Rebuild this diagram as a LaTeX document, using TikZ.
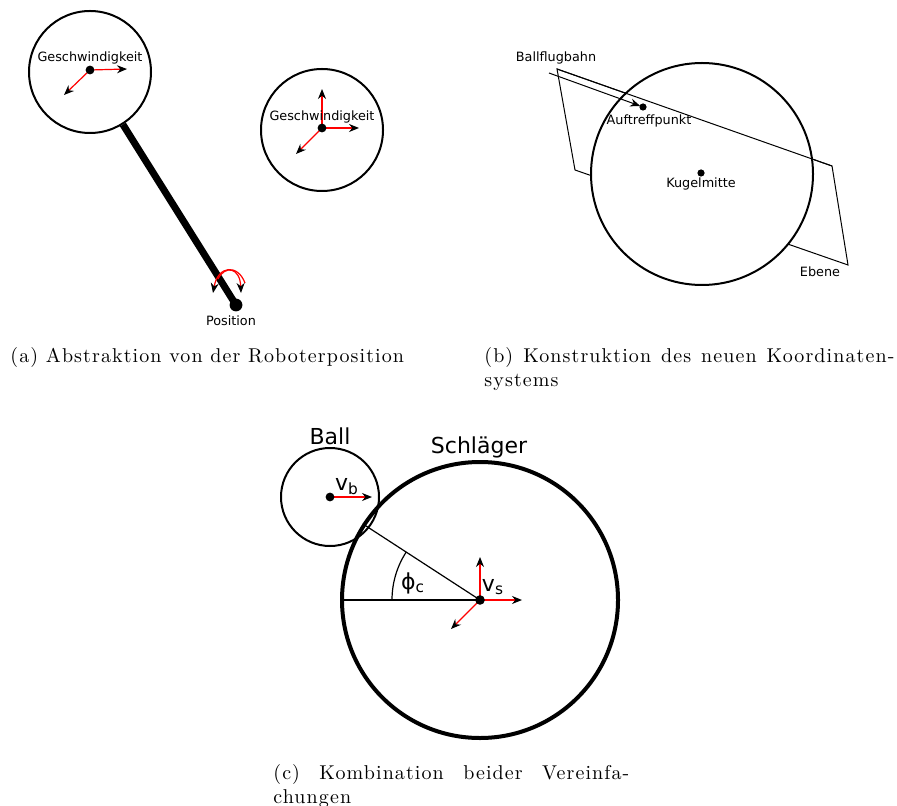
\documentclass[tikz,border=0pt]{standalone}
\usepackage{fontspec}
\usepackage{tikz}
\setmainfont{Latin Modern Roman}
\newfontfamily\labelfont{DejaVu Sans}
\usetikzlibrary{arrows.meta}

\begin{document}
\begin{tikzpicture}[
    x=0.5pt, y=-0.5pt, % pixel grid of the figure
    circ/.style={draw, circle, line width=1pt, inner sep=0pt},
    vel/.style={draw=red, line width=0.6pt, -{Stealth[black, length=5pt, width=4pt]}},
    plane/.style={draw=black, line width=0.5pt},
    lbl/.style={font=\labelfont\fontsize{6.4}{7.5}\selectfont, inner sep=0pt},
    biglbl/.style={font=\labelfont\fontsize{11}{13}\selectfont, inner sep=0pt},
    captxt/.style={font=\addfontfeature{LetterSpace=5.5}, inner sep=0pt, align=justify}
]
  \useasboundingbox (0,0) rectangle (897,806);

  % --- (a) ROBOT ABSTRACTION ---
  \node[circ, minimum size=61pt] (robot) at (90,72) {};
  \coordinate (rc) at (90,70);
  \coordinate (rv1) at (127,69);
  \coordinate (rv2) at (64,95);
  \draw[vel] (rc) -- (rv1);
  \draw[vel] (rc) -- (rv2);
  \fill (rc) circle (2.2pt);
  \node[lbl] (rtxt) at (90,58) {Geschwindigkeit};

  \coordinate (pos) at (236,305);
  \draw[line width=3.5pt] (robot) -- (pos);
  % rotation at the joint
  \coordinate (pa1) at (245,283);
  \coordinate (pa2) at (213,293);
  \coordinate (pb1) at (218,279);
  \coordinate (pb2) at (241,293);
  \draw[vel] (pa1) .. controls (238,264) and (218,265) .. (pa2);
  \draw[vel] (pb1) .. controls (225,265) and (240,267) .. (pb2);
  \fill (pos) circle (3.2pt);
  \node[lbl] (ptxt) at (231,321) {Position};

  \node[circ, minimum size=61pt] (free) at (322,130) {};
  \coordinate (fc) at (322,128);
  \coordinate (fv1) at (322,89);
  \coordinate (fv2) at (359,128);
  \coordinate (fv3) at (296,154);
  \draw[vel] (fc) -- (fv1);
  \draw[vel] (fc) -- (fv2);
  \draw[vel] (fc) -- (fv3);
  \fill (fc) circle (2.2pt);
  \node[lbl] (ftxt) at (322,117) {Geschwindigkeit};

  % --- (b) NEW COORDINATE SYSTEM ---
  \coordinate (e1) at (557,69);
  \coordinate (e2) at (832,166);
  \coordinate (e3) at (848,265);
  \coordinate (e4) at (575,170);
  \draw[plane] (e1) -- (e2) -- (e3) -- (e4) -- cycle;
  \node[circ, fill=white, minimum size=111pt] (kugel) at (702,174) {};
  \draw[plane] (e1) -- (e2);
  \coordinate (km) at (701,173);
  \fill (km) circle (1.8pt);
  \node[lbl] (kmtxt) at (701,184) {Kugelmitte};

  \coordinate (bahn) at (549,73);
  \coordinate (hit) at (643,107);
  \draw[plane, shorten >=1.5pt, -{Stealth[length=5pt, width=4pt]}] (bahn) -- (hit);
  \fill (hit) circle (1.8pt);
  \node[lbl] (bahntxt) at (556,58) {Ballflugbahn};
  \node[lbl] (hittxt) at (649,121) {Auftreffpunkt};
  \node[lbl] (ebtxt) at (820,272) {Ebene};

  % --- (c) COMBINATION ---
  \node[circ, minimum size=49pt] (ball) at (330,497) {};
  \node[circ, line width=2pt, minimum size=138pt] (bat) at (480,600) {};
  \coordinate (bc) at (480,600);
  \coordinate (ballc) at (330,497);
  \draw[line width=0.6pt] (bc) -- (bat.west);
  \draw[line width=0.6pt] (bc) -- (bat.147);
  \draw[line width=0.6pt] (bc) ++(-88,0) arc[start angle=180, end angle=213, radius=88];
  \node[biglbl] (phi) at (413,583) {ϕ\textsubscript{c}};

  \coordinate (bv) at (372,497);
  \draw[vel] (ballc) -- (bv);
  \fill (ballc) circle (2.2pt);
  \node[biglbl] (vb) at (347,487) {v\textsubscript{b}};

  \coordinate (sv1) at (480,557);
  \coordinate (sv2) at (522,600);
  \coordinate (sv3) at (451,629);
  \draw[vel] (bc) -- (sv1);
  \draw[vel] (bc) -- (sv2);
  \draw[vel] (bc) -- (sv3);
  \fill (bc) circle (2.4pt);
  \node[biglbl] (vs) at (493,587) {v\textsubscript{s}};

  \node[biglbl] (balltxt) at (330,436) {Ball};
  \node[biglbl] (battxt) at (479,447) {Schläger};

  % --- CAPTIONS ---
  \node[captxt, anchor=base west] (capa) at (10,363) {(a) Abstraktion von der Roboterposition};
  \node[captxt, text width=205pt, anchor=base west] (capb) at (484,363) {(b) Konstruktion des neuen Koordinaten-\linebreak systems};
  \node[captxt, text width=178pt, anchor=base west] (capc) at (273,779) {(c) Kombination beider Vereinfa-\linebreak chungen};

\end{tikzpicture}
\end{document}
